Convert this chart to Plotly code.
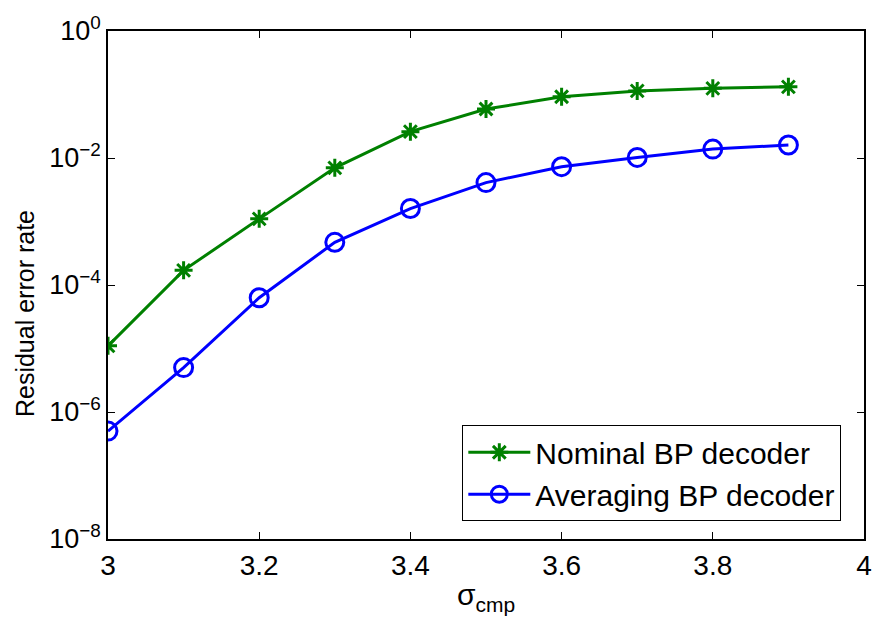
import plotly.graph_objects as go

sigma = [3.0, 3.1, 3.2, 3.3, 3.4, 3.5, 3.6, 3.7, 3.8, 3.9]
nominal = [1.1e-5, 1.7e-4, 1.1e-3, 7.0e-3, 2.6e-2, 5.9e-2, 0.092, 0.114, 0.125, 0.132]
averaging = [5.0e-7, 5.0e-6, 6.3e-5, 4.7e-4, 1.6e-3, 4.1e-3, 7.3e-3, 1.02e-2, 1.38e-2, 1.6e-2]
y_tickvals = [1e0, 1e-2, 1e-4, 1e-6, 1e-8]
y_ticktext = ["10<sup>0</sup>", "10<sup>\u22122</sup>", "10<sup>\u22124</sup>", "10<sup>\u22126</sup>", "10<sup>\u22128</sup>"]
x_tickvals = [3, 3.2, 3.4, 3.6, 3.8, 4]
x_ticktext = ["3", "3.2", "3.4", "3.6", "3.8", "4"]

fig = go.Figure()
fig.add_trace(go.Scatter(
    x=sigma, y=nominal, mode="lines+markers", name="Nominal BP decoder",
    line=dict(color="#008000", width=3),
    marker=dict(symbol="asterisk-open", size=15, color="#008000",
                line=dict(color="#008000", width=3)),
))
fig.add_trace(go.Scatter(
    x=sigma, y=averaging, mode="lines+markers", name="Averaging BP decoder",
    line=dict(color="#0000FF", width=3),
    marker=dict(symbol="circle-open", size=18, color="#0000FF",
                line=dict(color="#0000FF", width=3)),
))

font_family = "Liberation Sans, Arial, sans-serif"
fig.update_layout(
    width=884, height=626,
    margin=dict(l=108, r=14, t=30, b=87),
    paper_bgcolor="white", plot_bgcolor="white",
    font=dict(family=font_family, size=26, color="black"),
    showlegend=True,
    legend=dict(
        x=0.970, y=0.035, xanchor="right", yanchor="bottom",
        bordercolor="black", borderwidth=1, bgcolor="white",
        font=dict(size=30, color="black"),
        itemwidth=62,
        tracegroupgap=0,
    ),
    xaxis=dict(
        range=[3, 4], tickvals=x_tickvals, ticktext=x_ticktext,
        ticks="inside", ticklen=7, tickcolor="black", tickwidth=1,
        showline=True, linecolor="black", linewidth=1.5, mirror="allticks",
        showgrid=False, zeroline=False,
        tickfont=dict(size=28),
        ticklabelstandoff=1,
        title=dict(text="\u03c3<sub>cmp</sub>", font=dict(size=30), standoff=4),
    ),
    yaxis=dict(
        type="log", range=[-8, 0], tickvals=y_tickvals, ticktext=y_ticktext,
        ticks="inside", ticklen=7, tickcolor="black", tickwidth=1,
        showline=True, linecolor="black", linewidth=1.5, mirror="allticks",
        showgrid=False, zeroline=False,
        tickfont=dict(size=27),
        ticklabelstandoff=0,
    ),
    annotations=[dict(
        text="Residual error rate", textangle=-90,
        xref="paper", yref="paper", x=-0.109, y=0.444,
        xanchor="center", yanchor="middle", showarrow=False,
        font=dict(size=25, color="black"),
    )],
)

fig.write_html("out.html")
